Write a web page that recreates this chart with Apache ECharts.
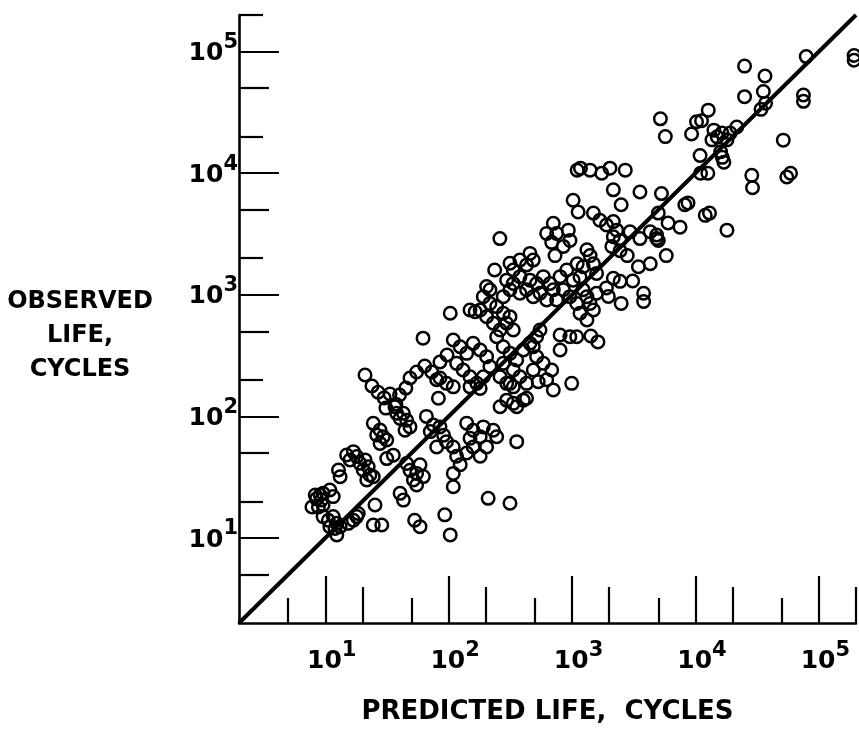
<!DOCTYPE html>
<html><head><meta charset="utf-8">
<script src="https://cdn.jsdelivr.net/npm/echarts@6/dist/echarts.min.js"></script>
<style>html,body{margin:0;padding:0;background:#fff}#c{width:859px;height:730px}</style>
</head><body><div id="c"></div>
<script>
const predicted = [
79000,193000,193000,25000,36600,35500,25000,37000,34000,75000,75000,21600,12700,10200,9300,11200,5200,5700,14100,15000,16400,13600,18000,19100,10900,16000,16500,17000,11000,12600,51500,28600,29000,55000,59000,5300,8200,8700,12000,13000,18000,5000,6000,7500,4850,
1100,1170,1400,1740,2030,2700,2160,3550,1020,1120,2500,1490,1680,1900,2160,2300,4300,4850,3550,5000,2950,2160,2450,705,623,750,933,962,684,850,728,260,2100,2450,2800,5800,4300,3450,3100,2160,2450,3800,3800,2500,1970,1580,1900,1320,1400,1490,1230,1100,1160,1580,905,800,1020,850,960,1090,705,623,1230,1320,1400,1160,1320,1490,800,960,1090,800,993,550,485,516,585,684,623,705,
236,103,62,203,216,149,164,180,314,334,378,428,456,485,295,334,378,456,516,585,662,314,277,378,428,485,550,750,191,216,245,277,314,203,230,261,295,334,109,124,140,158,180,203,116,131,149,169,191,216,245,277,314,356,403,456,516,277,334,378,428,485,314,261,
8.3,9.1,9.6,8.5,7.8,8.8,9.6,9.3,10.9,11.6,9.6,10.6,11.6,12.4,13.2,12,10.9,15.4,16.9,18,18.5,12.4,13.2,12.8,14.9,16.9,15.9,18,19.1,20.3,22.3,21,23,24.5,21.7,24.5,27.8,26.1,29.5,31.5,27.8,43,36.7,37.9,40.4,45.7,48.6,44.3,31.5,35.6,66,71,75,82.6,45.7,48.6,55,58.6,51.8,62.4,55,40.4,43,25.3,24.5,28.7,53,58.6,93,103,109,209,314,356,85,91,96,109,80,116,124,109,140,158,180,149,191,230,245,203,158,180,140,80,96,109,149,180,295,334,428,532,295,334,403,261,356,
21,23.9,26.8,30,33.5,37.4,31,40,45,48.6,55,64,73,85,97,85,1420,1620
];
const observed = [
91000,85000,93000,76000,63000,47000,42600,37600,33500,44000,39000,24000,33000,26500,21000,27000,28000,20000,22600,19900,21400,18800,18800,21400,14000,15000,13500,12300,10000,10000,18700,9600,7600,9300,10000,6800,5500,5700,4500,4700,3400,4700,3900,3600,2900,
10600,11000,10600,10000,11000,10600,7300,7000,6000,4800,5500,4700,4100,3750,4000,3400,3300,3100,2900,2800,3300,3000,2800,3870,3200,3200,3400,2800,2700,2500,2100,2900,2500,2300,2100,2100,1800,1700,1300,1370,1290,1030,880,850,970,1030,1140,2350,2100,1800,1700,1800,1400,1500,1600,1410,1320,1100,966,850,1100,906,1100,966,850,705,620,750,467,452,452,352,187,513,374,310,273,241,200,165,
1600,705,440,1170,1100,750,726,750,1820,1600,1930,1760,2190,1930,1320,1240,1410,1320,1240,1410,1240,1100,966,1030,1100,966,1030,906,966,850,800,705,661,661,583,514,583,514,425,374,330,399,352,310,273,241,212,187,212,257,452,374,330,291,352,399,452,273,241,212,187,241,187,212,
22.6,22.6,23.3,21,18,18,18.7,20.5,24.8,21.9,15,14,15,13.2,12.4,12,12.4,13.2,14,15,15.9,10.6,31.9,36.2,48.2,51.3,43.9,46.7,41.1,36.2,38.5,43.9,33,31.9,30,87.7,77.3,70.3,68,64,60,106,120,106,96,93,82,77,45,48,100,75,85,141,41,36,34,40,30,32,27.3,23.3,20.5,18.7,12.8,12.8,14,12.4,15.5,10.6,26.4,21.2,19.3,62,82,70,62,56,56,47,40,34,88,77,68,66,82,77,68,56,56,47,50,200,187,175,175,170,187,175,141,193,136,128,136,120,120,
219,178,158,142,153,126,117,150,171,207,232,260,232,280,320,207,458,410
];
const axisMin = 2, axisMax = 200000;
const decadeTicks = [10, 100, 1000, 10000, 100000];
const twoTicks = [20, 200, 2000, 20000, 200000];
const fiveTicks = [5, 50, 500, 5000, 50000];
const equalityLine = [[2, 2], [200000, 200000]];
const xTitle = 'PREDICTED LIFE,  CYCLES';
const yTitle = '\nOBSERVED\nLIFE,\nCYCLES';

const points = predicted.map((p, i) => [p, observed[i]]);
const FONT = 'DejaVu Sans';
const supFmt = v => '{b|10}{s|' + Math.round(Math.log10(v)) + '}';

function xAx(ticks, len, main) {
  return {
    type: 'log', logBase: 10, min: axisMin, max: axisMax, position: 'bottom', offset: 0,
    gridIndex: 0,
    axisLine: {show: main, lineStyle: {color: '#000', width: 2.6}},
    axisTick: {show: true, inside: true, length: len, customValues: ticks, lineStyle: {color: '#000', width: 2.2}},
    axisLabel: main ? {
      show: true, customValues: decadeTicks, margin: 17, formatter: supFmt, color: '#000',
      rich: {
        b: {fontSize: 25, fontFamily: FONT, fontWeight: 'bold', color: '#000', padding: [4, 0, 0, 13]},
        s: {fontSize: 21, fontFamily: FONT, fontWeight: 'bold', color: '#000', padding: [0, 0, 18, 0]}
      }
    } : {show: false},
    splitLine: {show: false}, minorTick: {show: false},
    name: main ? xTitle : '', nameLocation: 'middle', nameGap: 76,
    nameTextStyle: {fontSize: 26, fontFamily: FONT, fontWeight: 'bold', color: '#000'}
  };
}
function yAx(ticks, len, main) {
  return {
    type: 'log', logBase: 10, min: axisMin, max: axisMax, position: 'left', offset: 0,
    gridIndex: 0,
    axisLine: {show: main, lineStyle: {color: '#000', width: 2.6}},
    axisTick: {show: true, inside: true, length: len, customValues: ticks, lineStyle: {color: '#000', width: 2.2}},
    axisLabel: main ? {
      show: true, customValues: decadeTicks, margin: 1, formatter: supFmt, color: '#000',
      rich: {
        b: {fontSize: 25, fontFamily: FONT, fontWeight: 'bold', color: '#000', padding: [4, 0, 0, 0]},
        s: {fontSize: 21, fontFamily: FONT, fontWeight: 'bold', color: '#000', padding: [0, 0, 18, 0]}
      }
    } : {show: false},
    splitLine: {show: false}, minorTick: {show: false},
    name: main ? yTitle : '', nameLocation: 'middle', nameRotate: 0, nameGap: 159,
    nameTextStyle: {fontSize: 24, fontFamily: FONT, fontWeight: 'bold', color: '#000', align: 'center',
      verticalAlign: 'middle', lineHeight: 34}
  };
}

const chart = echarts.init(document.getElementById('c'), null, {renderer: 'canvas'});
chart.setOption({
  animation: false,
  backgroundColor: '#fff',
  grid: {left: 239, top: 15, width: 617, height: 608, containLabel: false},
  xAxis: [xAx(decadeTicks, 47, true), xAx(twoTicks, 36, false), xAx(fiveTicks, 25, false)],
  yAxis: [yAx(decadeTicks, 40, true), yAx(fiveTicks, 30, false), yAx(twoTicks, 24, false)],
  series: [
    {
      type: 'scatter', xAxisIndex: 0, yAxisIndex: 0, data: points,
      symbol: 'circle', symbolSize: 12.5,
      itemStyle: {color: 'rgba(0,0,0,0)', borderColor: '#000', borderWidth: 2.5, opacity: 1},
      emphasis: {disabled: true}, silent: true
    },
    {
      type: 'line', xAxisIndex: 0, yAxisIndex: 0, data: equalityLine,
      symbol: 'none', lineStyle: {color: '#000', width: 4}, silent: true, z: 3
    }
  ]
});
</script></body></html>
